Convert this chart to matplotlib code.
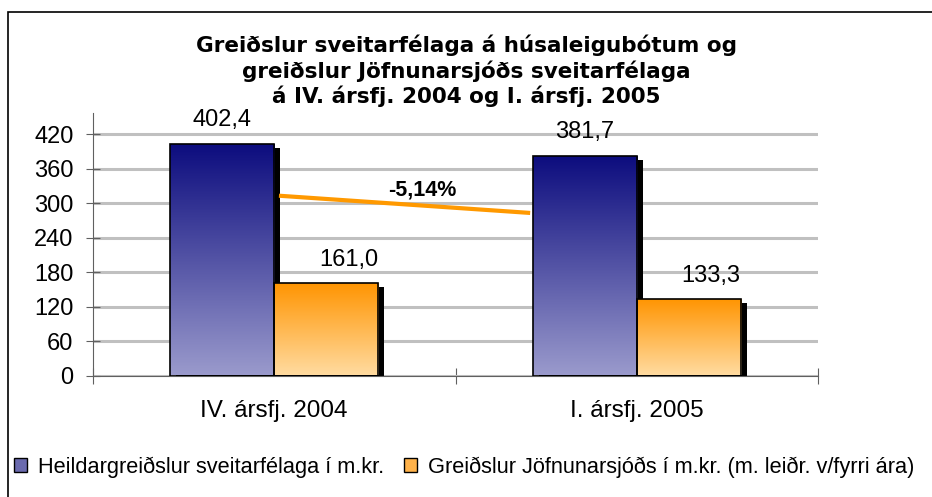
import numpy as np
import matplotlib
matplotlib.use("Agg")
from matplotlib import pyplot as plt
from matplotlib.patches import Rectangle, Patch
from matplotlib.colors import LinearSegmentedColormap
from matplotlib.transforms import ScaledTranslation

plt.rcParams["font.family"] = ["Liberation Sans", "DejaVu Sans"]

categories = ["IV. ársfj. 2004", "I. ársfj. 2005"]
heildar = [402.4, 381.7]
jofnun = [161.0, 133.3]
heildar_labels = ["402,4", "381,7"]
jofnun_labels = ["161,0", "133,3"]
series_names = ["Heildargreiðslur sveitarfélaga í m.kr.",
                "Greiðslur Jöfnunarsjóðs í m.kr. (m. leiðr. v/fyrri ára)"]
trend_x = [0.013, 0.706]
trend_y = [313, 283]
trend_label = "-5,14%"
yticks = [0, 60, 120, 180, 240, 300, 360, 420]
title = ("Greiðslur sveitarfélaga á húsaleigubótum og\n"
         "greiðslur Jöfnunarsjóðs sveitarfélaga\n"
         "á IV. ársfj. 2004 og I. ársfj. 2005")

blue_cmap = LinearSegmentedColormap.from_list("b", ["#9a9acc", "#0c0c7e"])
orange_cmap = LinearSegmentedColormap.from_list("o", ["#ffdba0", "#ff9400"])

fig = plt.figure(figsize=(9.32, 4.97), dpi=100)
ax = fig.add_axes([93 / 932, 1 - 375.5 / 497, (818 - 93) / 932, (375.5 - 113) / 497])

x = np.arange(len(categories))
w = 0.287
shadow = ax.transData + ScaledTranslation(6 / 100, -4 / 100, fig.dpi_scale_trans)


def gradient_bars(xs, heights, cmap):
  bars = ax.bar(xs, heights, w, align="edge", facecolor="none",
                edgecolor="black", linewidth=1.2, zorder=4)
  ax.bar(xs, heights, w, align="edge", color="black", zorder=2, transform=shadow)
  grad = np.linspace(0, 1, 256).reshape(-1, 1)
  for b in bars:
    x0, h = b.get_x(), b.get_height()
    im = ax.imshow(grad, cmap=cmap, origin="lower", aspect="auto",
                   extent=(x0, x0 + w, 0, h), zorder=3)
    im.set_clip_path(b)
  return bars


gradient_bars(x - w, heildar, blue_cmap)
gradient_bars(x, jofnun, orange_cmap)

for i in range(len(categories)):
  ax.annotate(heildar_labels[i], (x[i] - w / 2, heildar[i]), xytext=(0, 13),
              textcoords="offset points", ha="center", va="baseline", fontsize=17)
  ax.annotate(jofnun_labels[i], (x[i] + w / 2, jofnun[i]), xytext=(16, 12),
              textcoords="offset points", ha="center", va="baseline", fontsize=17)

ax.plot(trend_x, trend_y, color="#ff9900", lw=3, solid_capstyle="butt", zorder=5)
ax.text(0.408, 323, trend_label, ha="center", va="center", fontsize=15.5,
        fontweight="bold", zorder=6)

ax.set_xlim(-0.5, len(categories) - 0.5)
ax.set_ylim(0, 457)
ax.set_yticks(yticks)
ax.tick_params(axis="y", direction="inout", length=10, width=0.8, color="#606060",
               labelsize=17, pad=9)
ax.set_xticks(np.arange(len(categories) + 1) - 0.5)
ax.set_xticklabels([])
ax.set_xticks(x, categories, minor=True)
ax.tick_params(axis="x", which="major", direction="inout", length=11, width=0.8,
               color="#606060")
ax.tick_params(axis="x", which="minor", length=0, labelsize=17.5, pad=18)
ax.grid(axis="y", color="#c0c0c0", linewidth=2.2, zorder=0)
ax.set_axisbelow(True)
for s in ["top", "right"]:
  ax.spines[s].set_visible(False)
for s in ["left", "bottom"]:
  ax.spines[s].set_color("#606060")
  ax.spines[s].set_linewidth(0.8)

fig.text(466 / 932, 1 - 71 / 497, title, ha="center", va="center",
         fontsize=15.5, fontweight="bold", family="DejaVu Sans", linespacing=1.22)

handles = [Patch(facecolor="#6a6aae", edgecolor="black", linewidth=1),
           Patch(facecolor="#ffb24a", edgecolor="black", linewidth=1)]
fig.legend(handles, series_names, loc="center left", ncol=2, frameon=False,
           bbox_to_anchor=(14 / 932, 1 - 467 / 497), fontsize=15.7,
           handlelength=0.6, handleheight=0.6, handletextpad=0.5,
           columnspacing=0.9, borderaxespad=0, borderpad=0)

fig.patches.append(Rectangle((8 / 932, -0.1), 1.2, 1.1 - 12 / 497,
                             transform=fig.transFigure, fill=False,
                             edgecolor="black", linewidth=1.2))

fig.savefig("out.png", dpi=100)
